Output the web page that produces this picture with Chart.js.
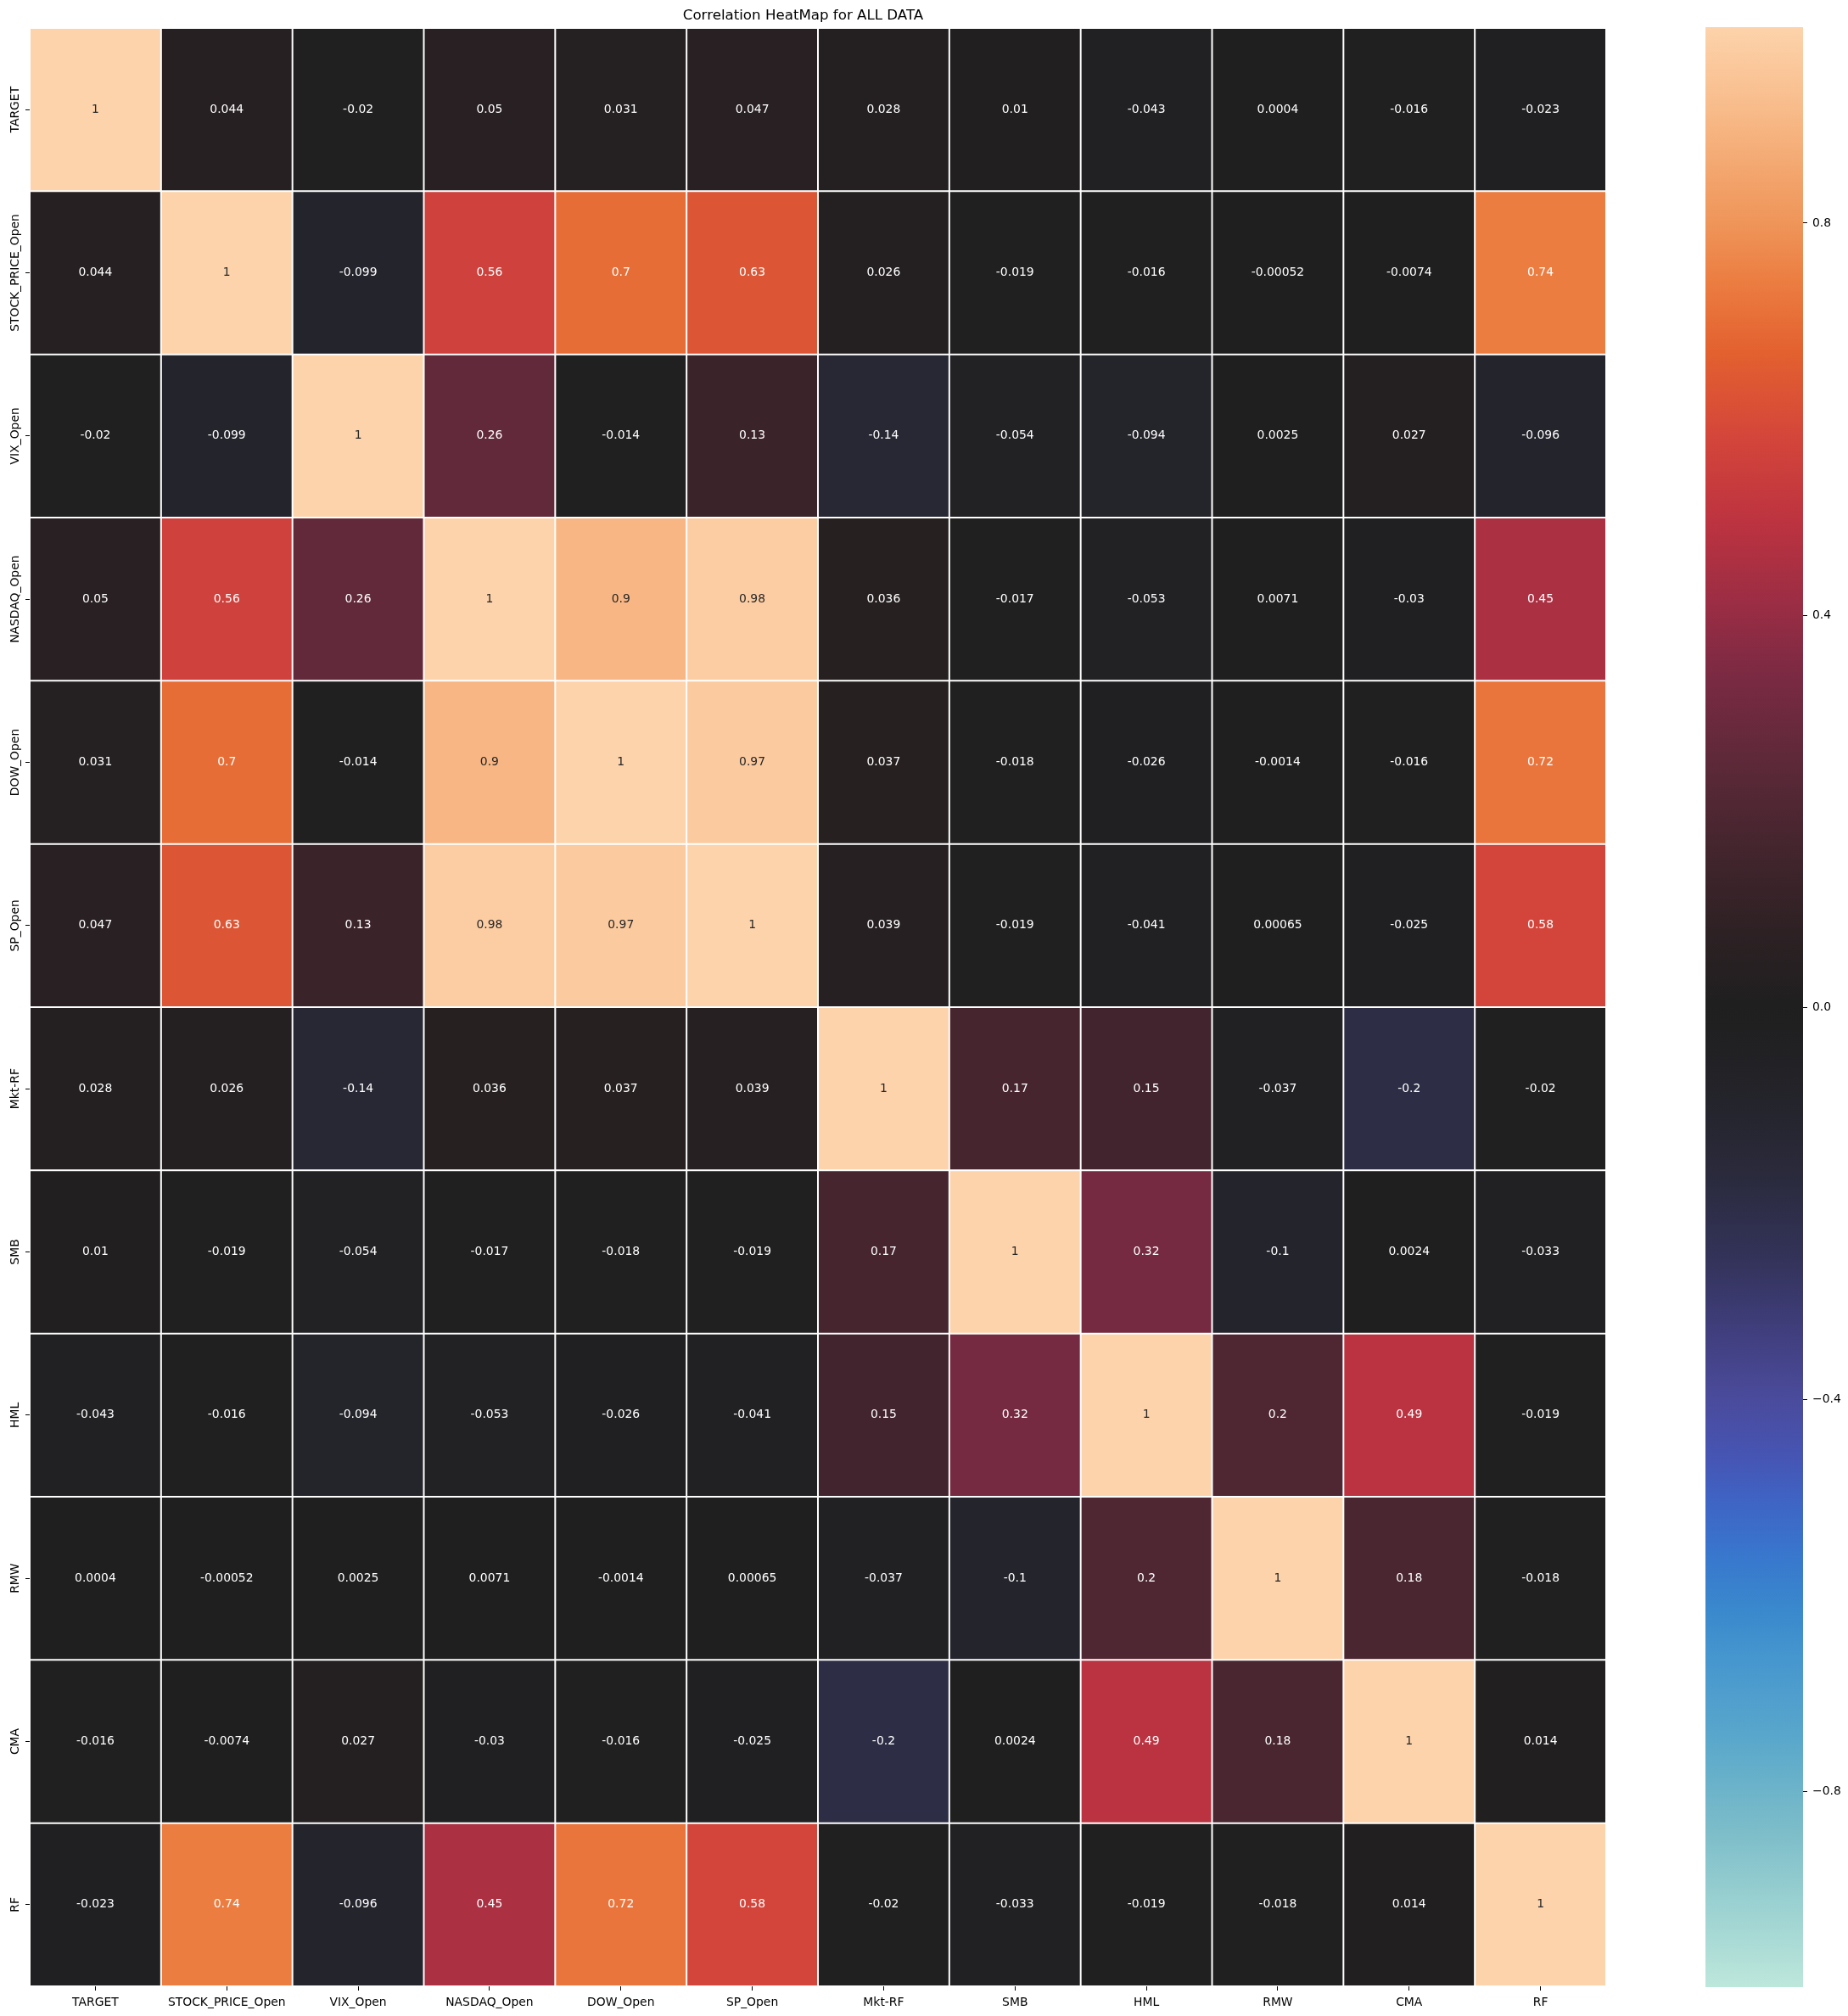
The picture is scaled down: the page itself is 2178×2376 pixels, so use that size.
<!DOCTYPE html>
<html><head><meta charset="utf-8">
<script src="https://cdn.jsdelivr.net/npm/chart.js@4.4.0/dist/chart.umd.min.js"></script>
<style>
html,body{margin:0;padding:0;background:#fff;}
#wrap{position:relative;width:2178px;height:2376px;background:#fff;}
#main{position:absolute;left:0;top:0;}
#cbar{position:absolute;left:2000px;top:0;}
</style></head><body>
<div id="wrap">
<canvas id="main" width="2000" height="2376"></canvas>
<canvas id="cbar" width="178" height="2376"></canvas>
</div>
<script>
const chartTitle = 'Correlation HeatMap for ALL DATA';
const colLabels = ['TARGET','STOCK_PRICE_Open','VIX_Open','NASDAQ_Open','DOW_Open','SP_Open','Mkt-RF','SMB','HML','RMW','CMA','RF'];
const rowLabels = ['TARGET','STOCK_PRICE_Open','VIX_Open','NASDAQ_Open','DOW_Open','SP_Open','Mkt-RF','SMB','HML','RMW','CMA','RF'];

const rowTARGET = [1, 0.044, -0.02, 0.05, 0.031, 0.047, 0.028, 0.01, -0.043, 0.0004, -0.016, -0.023];
const rowSTOCK  = [0.044, 1, -0.099, 0.56, 0.7, 0.63, 0.026, -0.019, -0.016, -0.00052, -0.0074, 0.74];
const rowVIX    = [-0.02, -0.099, 1, 0.26, -0.014, 0.13, -0.14, -0.054, -0.094, 0.0025, 0.027, -0.096];
const rowNASDAQ = [0.05, 0.56, 0.26, 1, 0.9, 0.98, 0.036, -0.017, -0.053, 0.0071, -0.03, 0.45];
const rowDOW    = [0.031, 0.7, -0.014, 0.9, 1, 0.97, 0.037, -0.018, -0.026, -0.0014, -0.016, 0.72];
const rowSP     = [0.047, 0.63, 0.13, 0.98, 0.97, 1, 0.039, -0.019, -0.041, 0.00065, -0.025, 0.58];
const rowMKTRF  = [0.028, 0.026, -0.14, 0.036, 0.037, 0.039, 1, 0.17, 0.15, -0.037, -0.2, -0.02];
const rowSMB    = [0.01, -0.019, -0.054, -0.017, -0.018, -0.019, 0.17, 1, 0.32, -0.1, 0.0024, -0.033];
const rowHML    = [-0.043, -0.016, -0.094, -0.053, -0.026, -0.041, 0.15, 0.32, 1, 0.2, 0.49, -0.019];
const rowRMW    = [0.0004, -0.00052, 0.0025, 0.0071, -0.0014, 0.00065, -0.037, -0.1, 0.2, 1, 0.18, -0.018];
const rowCMA    = [-0.016, -0.0074, 0.027, -0.03, -0.016, -0.025, -0.2, 0.0024, 0.49, 0.18, 1, 0.014];
const rowRF     = [-0.023, 0.74, -0.096, 0.45, 0.72, 0.58, -0.02, -0.033, -0.019, -0.018, 0.014, 1];

const cbMin = -1, cbMax = 1;
const cbTicks = [-0.8, -0.4, 0, 0.4, 0.8];

const matrix = [rowTARGET,rowSTOCK,rowVIX,rowNASDAQ,rowDOW,rowSP,rowMKTRF,rowSMB,rowHML,rowRMW,rowCMA,rowRF];

// icefire-like colormap stops
const cmapStops = [
 [-1.0,'#bde7db'],[-0.924,'#9ed3d2'],[-0.837,'#7bbcc9'],[-0.75,'#5aa8cb'],[-0.664,'#4696cf'],
 [-0.62,'#3a8acd'],[-0.56,'#3877cd'],[-0.504,'#3f64c4'],[-0.46,'#4655b4'],[-0.4,'#4a4b9c'],
 [-0.335,'#413f7f'],[-0.257,'#33335a'],[-0.17,'#2a2a3c'],[-0.084,'#232329'],[0,'#1f1f1f'],
 [0.076,'#2d2124'],[0.163,'#44252e'],[0.249,'#5d2939'],[0.336,'#7a2a43'],[0.41,'#9a2d44'],
 [0.496,'#bd3340'],[0.583,'#d4463a'],[0.669,'#e3612f'],[0.743,'#ec7e42'],[0.8,'#ef955a'],
 [0.829,'#f19e64'],[0.916,'#f8bb8a'],[1.0,'#fdd3ab']
];
function hex2rgb(h){return [parseInt(h.slice(1,3),16),parseInt(h.slice(3,5),16),parseInt(h.slice(5,7),16)];}
function colorRGB(v){
  v = Math.max(cbMin, Math.min(cbMax, v));
  for (let k=0;k<cmapStops.length-1;k++){
    const [a,ca]=cmapStops[k],[b,cb]=cmapStops[k+1];
    if (v>=a && v<=b){
      const t=(v-a)/(b-a), A=hex2rgb(ca), B=hex2rgb(cb);
      return A.map((x,i)=>Math.round(x+(B[i]-x)*t));
    }
  }
  return hex2rgb(cmapStops[cmapStops.length-1][1]);
}
function colorFor(v){const c=colorRGB(v);return `rgb(${c[0]},${c[1]},${c[2]})`;}
function textColorFor(v){
  const c=colorRGB(v).map(x=>{x/=255;return x<=0.03928?x/12.92:Math.pow((x+0.055)/1.055,2.4);});
  const lum=0.2126*c[0]+0.7152*c[1]+0.0722*c[2];
  return lum>0.408?'#262626':'#ffffff';
}

Chart.defaults.font.family = "'DejaVu Sans'";
Chart.defaults.color = '#000';

const datasets = matrix.map((row,i)=>({
  label: rowLabels[i],
  data: row.map(()=>[i, i+1]),
  backgroundColor: row.map(colorFor),
  borderColor: '#ffffff',
  borderWidth: 1,
  borderSkipped: false,
  inflateAmount: 0,
  grouped: false,
  barPercentage: 1,
  categoryPercentage: 1
}));

const annotPlugin = {
  id:'annot',
  afterDatasetsDraw(chart){
    const ctx=chart.ctx; ctx.save();
    ctx.font = '13.9px "DejaVu Sans"'; ctx.textAlign='center'; ctx.textBaseline='middle';
    chart.data.datasets.forEach((ds,i)=>{
      chart.getDatasetMeta(i).data.forEach((el,j)=>{
        const v=matrix[i][j];
        ctx.fillStyle=textColorFor(v);
        ctx.fillText(String(v), el.x, (el.y+el.base)/2);
      });
    });
    ctx.restore();
  }
};
const yLabelPlugin = {
  id:'ylabels',
  afterDraw(chart){
    const ys=chart.scales.y, ctx=chart.ctx; ctx.save();
    ctx.font='13.9px "DejaVu Sans"'; ctx.fillStyle='#000'; ctx.textAlign='center'; ctx.textBaseline='alphabetic';
    ys.ticks.forEach(t=>{
      const py=ys.getPixelForValue(t.value);
      ctx.save(); ctx.translate(ys.right-13,py); ctx.rotate(-Math.PI/2);
      ctx.fillText(rowLabels[Math.floor(t.value)],0,0); ctx.restore();
    });
    ctx.restore();
  }
};

new Chart(document.getElementById('main'), {
  type:'bar',
  data:{labels:colLabels, datasets},
  options:{
    responsive:false, animation:false, devicePixelRatio:1,
    layout:{padding:{left:0,right:107,top:0,bottom:0}},
    plugins:{
      legend:{display:false}, tooltip:{enabled:false},
      title:{display:true, text:chartTitle, color:'#000', font:{size:16.67, weight:'normal'}, padding:{top:9,bottom:4}}
    },
    scales:{
      x:{type:'category', offset:true,
         grid:{display:true, drawOnChartArea:false, drawTicks:true, tickLength:5, color:'#000', lineWidth:1, offset:false},
         border:{display:false},
         ticks:{font:{size:13.9}, color:'#000', padding:6, maxRotation:0, minRotation:0, autoSkip:false},
         afterFit:s=>{s.height=35;}},
      y:{type:'linear', min:0, max:rowLabels.length, reverse:true,
         grid:{display:true, drawOnChartArea:false, drawTicks:true, tickLength:5, color:'#000', lineWidth:1},
         border:{display:false},
         ticks:{display:false},
         afterBuildTicks:s=>{s.ticks=rowLabels.map((_,i)=>({value:i+0.5}));},
         afterFit:s=>{s.width=35;}}
    }
  },
  plugins:[annotPlugin, yLabelPlugin]
});

function fmtTick(v){ if (Math.abs(v)<1e-9) return '0.0'; return (v<0?'\u2212':'')+Math.abs(v).toFixed(1); }

new Chart(document.getElementById('cbar'), {
  type:'bar',
  data:{labels:[''], datasets:[{
    data:[[cbMin,cbMax]],
    backgroundColor:(c)=>{
      const ch=c.chart; if(!ch.chartArea) return '#888';
      const y=ch.scales.y;
      const g=ch.ctx.createLinearGradient(0,y.getPixelForValue(cbMin),0,y.getPixelForValue(cbMax));
      cmapStops.forEach(([v,col])=>g.addColorStop((v-cbMin)/(cbMax-cbMin),col));
      return g;
    },
    borderWidth:0, inflateAmount:0, barPercentage:1, categoryPercentage:1
  }]},
  options:{
    responsive:false, animation:false, devicePixelRatio:1,
    layout:{padding:{left:10,top:32,bottom:34,right:0}},
    plugins:{legend:{display:false}, tooltip:{enabled:false}},
    scales:{
      x:{display:false},
      y:{position:'right', min:cbMin, max:cbMax,
         grid:{display:true, drawOnChartArea:false, drawTicks:true, tickLength:5, color:'#000', lineWidth:1},
         border:{display:false},
         ticks:{font:{size:13.9}, color:'#000', padding:6, callback:(v)=>fmtTick(v)},
         afterBuildTicks:s=>{s.ticks=cbTicks.map(v=>({value:v}));},
         afterFit:s=>{s.width=53;}}
    }
  }
});
</script></body></html>
